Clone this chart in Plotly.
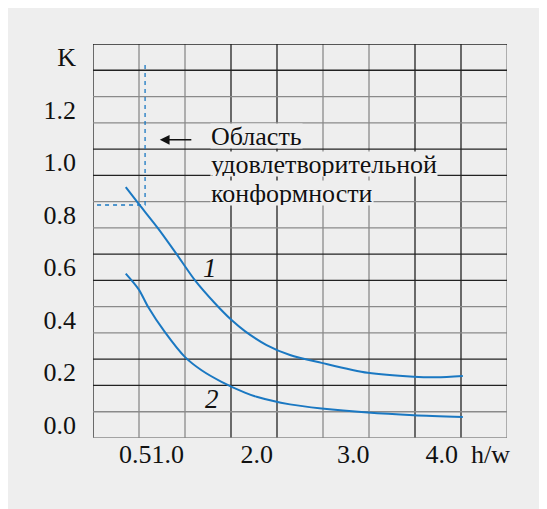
import plotly.graph_objects as go

# Curve data (h/w vs K)
x1 = [0.606, 0.747, 0.957, 1.157, 1.357, 1.575, 1.756, 1.901, 2.137, 2.391, 2.735, 3.236, 3.736, 3.987, 4.270]
y1 = [0.905, 0.841, 0.748, 0.651, 0.551, 0.463, 0.399, 0.357, 0.304, 0.266, 0.236, 0.198, 0.183, 0.181, 0.186]
x2 = [0.606, 0.747, 0.848, 1.030, 1.248, 1.430, 1.647, 1.901, 2.028, 2.391, 2.735, 3.236, 3.736, 4.270]
y2 = [0.576, 0.516, 0.450, 0.354, 0.259, 0.208, 0.164, 0.123, 0.107, 0.078, 0.0625, 0.047, 0.037, 0.030]

# Dashed region boundary
dash_x = [0.294, 0.816, 0.816]
dash_y = [0.837, 0.837, 1.383]

# Axis ticks
x_tickvals = [0.885, 2.03, 3.08, 4.04, 4.57]
x_ticktext = ["0.51.0", "2.0", "3.0", "4.0", "h/w"]
y_tickvals = [0.0, 0.2, 0.4, 0.6, 0.8, 1.0, 1.2, 1.4]
y_ticktext = ["0.0", "0.2", "0.4", "0.6", "0.8", "1.0", "1.2", "K"]
x_grid = [0.25 + 0.5 * i for i in range(10)]
y_grid = [1.45 - 0.1 * i for i in range(16)]

note_lines = ["Область", "удовлетворительной", "конформности"]
note_y = [1.100, 0.993, 0.882]

BG = "#eeeeee"
BLUE = "#1a78c2"
DARK = "#222222"
GRAY = "#8a8a8a"
FONT = "Liberation Serif, Times New Roman, serif"

fig = go.Figure()

# grid lines
for i, gx in enumerate(x_grid):
    col = GRAY if i % 4 in (1, 2) else DARK
    fig.add_shape(type="line", xref="x", yref="paper", x0=gx, x1=gx, y0=0, y1=1,
                  line=dict(color=col, width=1.3), layer="below")
for i, gy in enumerate(y_grid):
    col = GRAY if i % 4 in (2, 3) else DARK
    fig.add_shape(type="line", xref="paper", yref="y", x0=0, x1=1, y0=gy, y1=gy,
                  line=dict(color=col, width=1.3), layer="below")

fig.add_trace(go.Scatter(x=dash_x, y=dash_y, mode="lines",
                         line=dict(color=BLUE, width=1.3, dash="4px,4px"), hoverinfo="skip"))
fig.add_trace(go.Scatter(x=x1, y=y1, mode="lines", line=dict(color=BLUE, width=2, shape="spline", smoothing=0.8)))
fig.add_trace(go.Scatter(x=x2, y=y2, mode="lines", line=dict(color=BLUE, width=2, shape="spline", smoothing=0.8)))

for t, yy in zip(note_lines, note_y):
    fig.add_annotation(x=1.52, y=yy, text=t, showarrow=False, xanchor="left", yanchor="middle",
                       font=dict(family=FONT, size=26, color="#111", shadow="0px 0px 2px #ffffff"),
                       bgcolor=BG, borderpad=0, height=24, valign="middle")

fig.add_annotation(x=0.976, y=1.085, ax=1.335, ay=1.085, xref="x", yref="y", axref="x", ayref="y",
                   text="", showarrow=True, arrowhead=2, arrowsize=1.3, arrowwidth=1.5, arrowcolor="#111")

fig.add_annotation(x=1.52, y=0.596, text="<i>1</i>", showarrow=False,
                   font=dict(family=FONT, size=27, color="#111"))
fig.add_annotation(x=1.54, y=0.10, text="<i>2</i>", showarrow=False,
                   font=dict(family=FONT, size=27, color="#111"))

fig.update_xaxes(range=[0.25, 4.75], tickvals=x_tickvals, ticktext=x_ticktext, showgrid=False,
                 zeroline=False, showline=False, ticks="",
                 tickfont=dict(family=FONT, size=26, color="#111"), ticklabelstandoff=-2)
fig.update_yaxes(range=[-0.05, 1.45], tickvals=y_tickvals, ticktext=y_ticktext, showgrid=False,
                 zeroline=False, showline=False, ticks="",
                 tickfont=dict(family=FONT, size=26, color="#111"), ticklabelstandoff=16)

fig.update_layout(width=539, height=501, margin=dict(l=85.3, r=40.3, t=36, b=71.3, autoexpand=False),
                  paper_bgcolor=BG, plot_bgcolor=BG, showlegend=False)

fig.write_html("out.html")
